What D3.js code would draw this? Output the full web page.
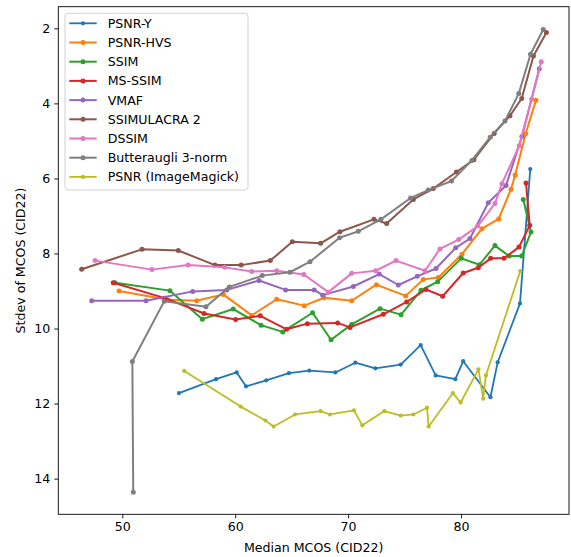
<!DOCTYPE html>
<html>
<head>
<meta charset="utf-8">
<script src="https://cdn.jsdelivr.net/npm/d3@7"></script>
<style>
  body { margin: 0; background: #fff; }
  svg text { font-family: "DejaVu Sans", sans-serif; fill: #000; }
</style>
</head>
<body>
<script>
// values: [median MCOS, stdev MCOS]
const psnrY = [[55.02,11.72],[58.30,11.35],[60.13,11.17],[60.96,11.54],[62.75,11.38],[64.76,11.19],[66.56,11.12],[68.87,11.17],[70.64,10.91],[72.41,11.06],[74.66,10.96],[76.43,10.44],[77.76,11.25],[79.50,11.35],[80.20,10.87],[82.61,11.83],[83.25,10.90],[85.23,9.33],[86.14,5.75]];
const psnrHvs = [[49.71,9.00],[54.05,9.23],[56.59,9.26],[58.95,9.09],[61.46,9.65],[63.68,9.22],[66.12,9.39],[67.87,9.18],[70.32,9.26],[72.50,8.83],[75.10,9.13],[76.66,8.69],[77.99,8.64],[80.09,8.02],[81.86,7.34],[83.34,7.08],[84.43,6.29],[84.80,5.91],[85.73,4.81],[86.64,3.92]];
const ssim = [[49.35,8.78],[54.22,8.99],[57.09,9.75],[59.83,9.48],[62.29,9.91],[64.21,10.09],[66.85,9.58],[68.49,10.30],[70.32,9.89],[72.83,9.47],[74.69,9.63],[76.46,8.98],[77.94,8.75],[80.03,8.13],[81.64,8.30],[83.01,7.79],[84.27,8.07],[85.38,8.07],[86.20,7.43],[85.52,6.56]];
const msSsim = [[49.20,8.78],[53.78,9.19],[57.24,9.60],[60.04,9.76],[62.22,9.66],[64.56,10.02],[66.39,9.87],[69.08,9.85],[70.17,9.97],[73.12,9.62],[75.19,9.29],[76.90,8.96],[78.38,9.14],[80.20,8.52],[81.53,8.38],[82.63,8.13],[83.81,8.13],[85.14,7.83],[86.09,7.25],[85.76,6.12]];
const vmaf = [[47.29,9.26],[52.10,9.26],[56.24,9.01],[59.25,8.97],[62.11,8.72],[64.47,8.97],[67.00,8.97],[67.75,9.11],[70.46,8.88],[72.76,8.55],[74.45,8.84],[76.13,8.61],[77.79,8.40],[79.53,7.85],[80.80,7.60],[82.42,6.65],[83.99,6.19],[85.40,4.88],[86.94,3.08]];
const ssimulacra2 = [[46.40,8.42],[51.74,7.89],[54.96,7.92],[58.21,8.31],[60.53,8.31],[63.11,8.19],[65.06,7.69],[67.57,7.73],[69.28,7.42],[72.29,7.09],[73.42,7.20],[75.78,6.56],[77.55,6.27],[79.60,5.83],[81.15,5.50],[82.94,4.80],[84.34,4.33],[85.38,3.87],[86.42,2.74],[87.57,2.11]];
const dssim = [[47.59,8.19],[52.63,8.43],[55.82,8.31],[59.07,8.37],[61.46,8.48],[63.68,8.46],[66.08,8.56],[68.25,9.03],[70.32,8.53],[72.44,8.46],[74.24,8.19],[76.81,8.46],[78.14,7.88],[79.80,7.63],[81.48,7.27],[83.01,6.67],[83.63,6.14],[85.16,5.13],[86.26,3.89],[87.11,2.89]];
const butteraugli = [[50.97,14.36],[50.89,10.88],[53.72,9.27],[57.41,9.42],[59.48,8.89],[62.40,8.59],[64.85,8.50],[66.63,8.22],[69.24,7.58],[70.90,7.41],[72.91,7.09],[75.54,6.52],[77.10,6.31],[79.16,6.07],[80.97,5.52],[82.59,4.90],[83.90,4.47],[85.12,3.74],[86.16,2.69],[87.29,2.03]];
const psnrIm = [[55.49,11.13],[60.49,12.08],[62.67,12.45],[63.41,12.61],[65.30,12.29],[67.57,12.20],[68.40,12.29],[70.52,12.18],[71.26,12.58],[73.21,12.20],[74.66,12.32],[75.78,12.29],[76.99,12.11],[77.14,12.61],[79.29,11.72],[79.97,11.97],[81.55,11.09],[81.97,11.87],[82.21,11.25],[85.25,8.47]];

const names = ["PSNR-Y", "PSNR-HVS", "SSIM", "MS-SSIM", "VMAF", "SSIMULACRA 2", "DSSIM", "Butteraugli 3-norm", "PSNR (ImageMagick)"];
const colors = ["#1f77b4", "#ff7f0e", "#2ca02c", "#d62728", "#9467bd", "#8c564b", "#e377c2", "#7f7f7f", "#bcbd22"];
const xTicks = [50, 60, 70, 80];
const yTicks = [2, 4, 6, 8, 10, 12, 14];

const allSeries = [psnrY, psnrHvs, ssim, msSsim, vmaf, ssimulacra2, dssim, butteraugli, psnrIm];

const W = 571, H = 557;
const m = { left: 58.3, right: 569, top: 6.7, bottom: 514.3 };
const fs = 12.6;

const svg = d3.select("body").append("svg")
  .attr("width", W)
  .attr("height", H);

const x = d3.scaleLinear().domain([44.33, 89.57]).range([m.left, m.right]);
const y = d3.scaleLinear().domain([1.424, 14.95]).range([m.top, m.bottom]);

// axes
const xAxis = svg.append("g")
  .attr("transform", `translate(0,${m.bottom})`)
  .call(d3.axisBottom(x).tickValues(xTicks).tickSize(4).tickPadding(4).tickFormat(d3.format("d")));
const yAxis = svg.append("g")
  .attr("transform", `translate(${m.left},0)`)
  .call(d3.axisLeft(y).tickValues(yTicks).tickSize(4).tickPadding(4).tickFormat(d3.format("d")));

[xAxis, yAxis].forEach(g => {
  g.select(".domain").remove();
  g.selectAll("line").attr("stroke", "#000").attr("stroke-width", 0.9);
  g.selectAll("text").attr("font-size", fs).attr("font-family", "DejaVu Sans");
});

// lines and markers
const line = d3.line().x(d => x(d[0])).y(d => y(d[1]));

allSeries.forEach((data, i) => {
  const thin = i === 0 || i === 8;
  svg.append("path")
    .datum(data)
    .attr("fill", "none")
    .attr("stroke", colors[i])
    .attr("stroke-width", thin ? 1.8 : 2)
    .attr("stroke-linejoin", "round")
    .attr("d", line);
  svg.append("g")
    .selectAll("circle")
    .data(data)
    .join("circle")
    .attr("cx", d => x(d[0]))
    .attr("cy", d => y(d[1]))
    .attr("r", thin ? 2.1 : 2.5)
    .attr("fill", colors[i]);
});

// frame
svg.append("rect")
  .attr("x", m.left)
  .attr("y", m.top)
  .attr("width", m.right - m.left)
  .attr("height", m.bottom - m.top)
  .attr("fill", "none")
  .attr("stroke", "#000")
  .attr("stroke-width", 0.9);

// axis labels
svg.append("text")
  .attr("x", (m.left + m.right) / 2)
  .attr("y", 552)
  .attr("text-anchor", "middle")
  .attr("font-size", fs)
  .text("Median MCOS (CID22)");

svg.append("text")
  .attr("transform", `translate(25, ${(m.top + m.bottom) / 2}) rotate(-90)`)
  .attr("text-anchor", "middle")
  .attr("font-size", fs)
  .text("Stdev of MCOS (CID22)");

// legend
const leg = svg.append("g");
leg.append("rect")
  .attr("x", 65)
  .attr("y", 13.3)
  .attr("width", 183)
  .attr("height", 176.7)
  .attr("rx", 3)
  .attr("fill", "#fff")
  .attr("fill-opacity", 0.8)
  .attr("stroke", "#cccccc")
  .attr("stroke-width", 0.9);

names.forEach((name, i) => {
  const ly = 23.3 + i * 19.2;
  const thin = i === 0 || i === 8;
  leg.append("line")
    .attr("x1", 69.3).attr("x2", 96.7)
    .attr("y1", ly).attr("y2", ly)
    .attr("stroke", colors[i])
    .attr("stroke-width", thin ? 1.8 : 2);
  leg.append("circle")
    .attr("cx", 83).attr("cy", ly)
    .attr("r", thin ? 2.1 : 2.5)
    .attr("fill", colors[i]);
  leg.append("text")
    .attr("x", 107.7)
    .attr("y", ly + 4.5)
    .attr("font-size", fs)
    .text(name);
});
</script>
</body>
</html>
